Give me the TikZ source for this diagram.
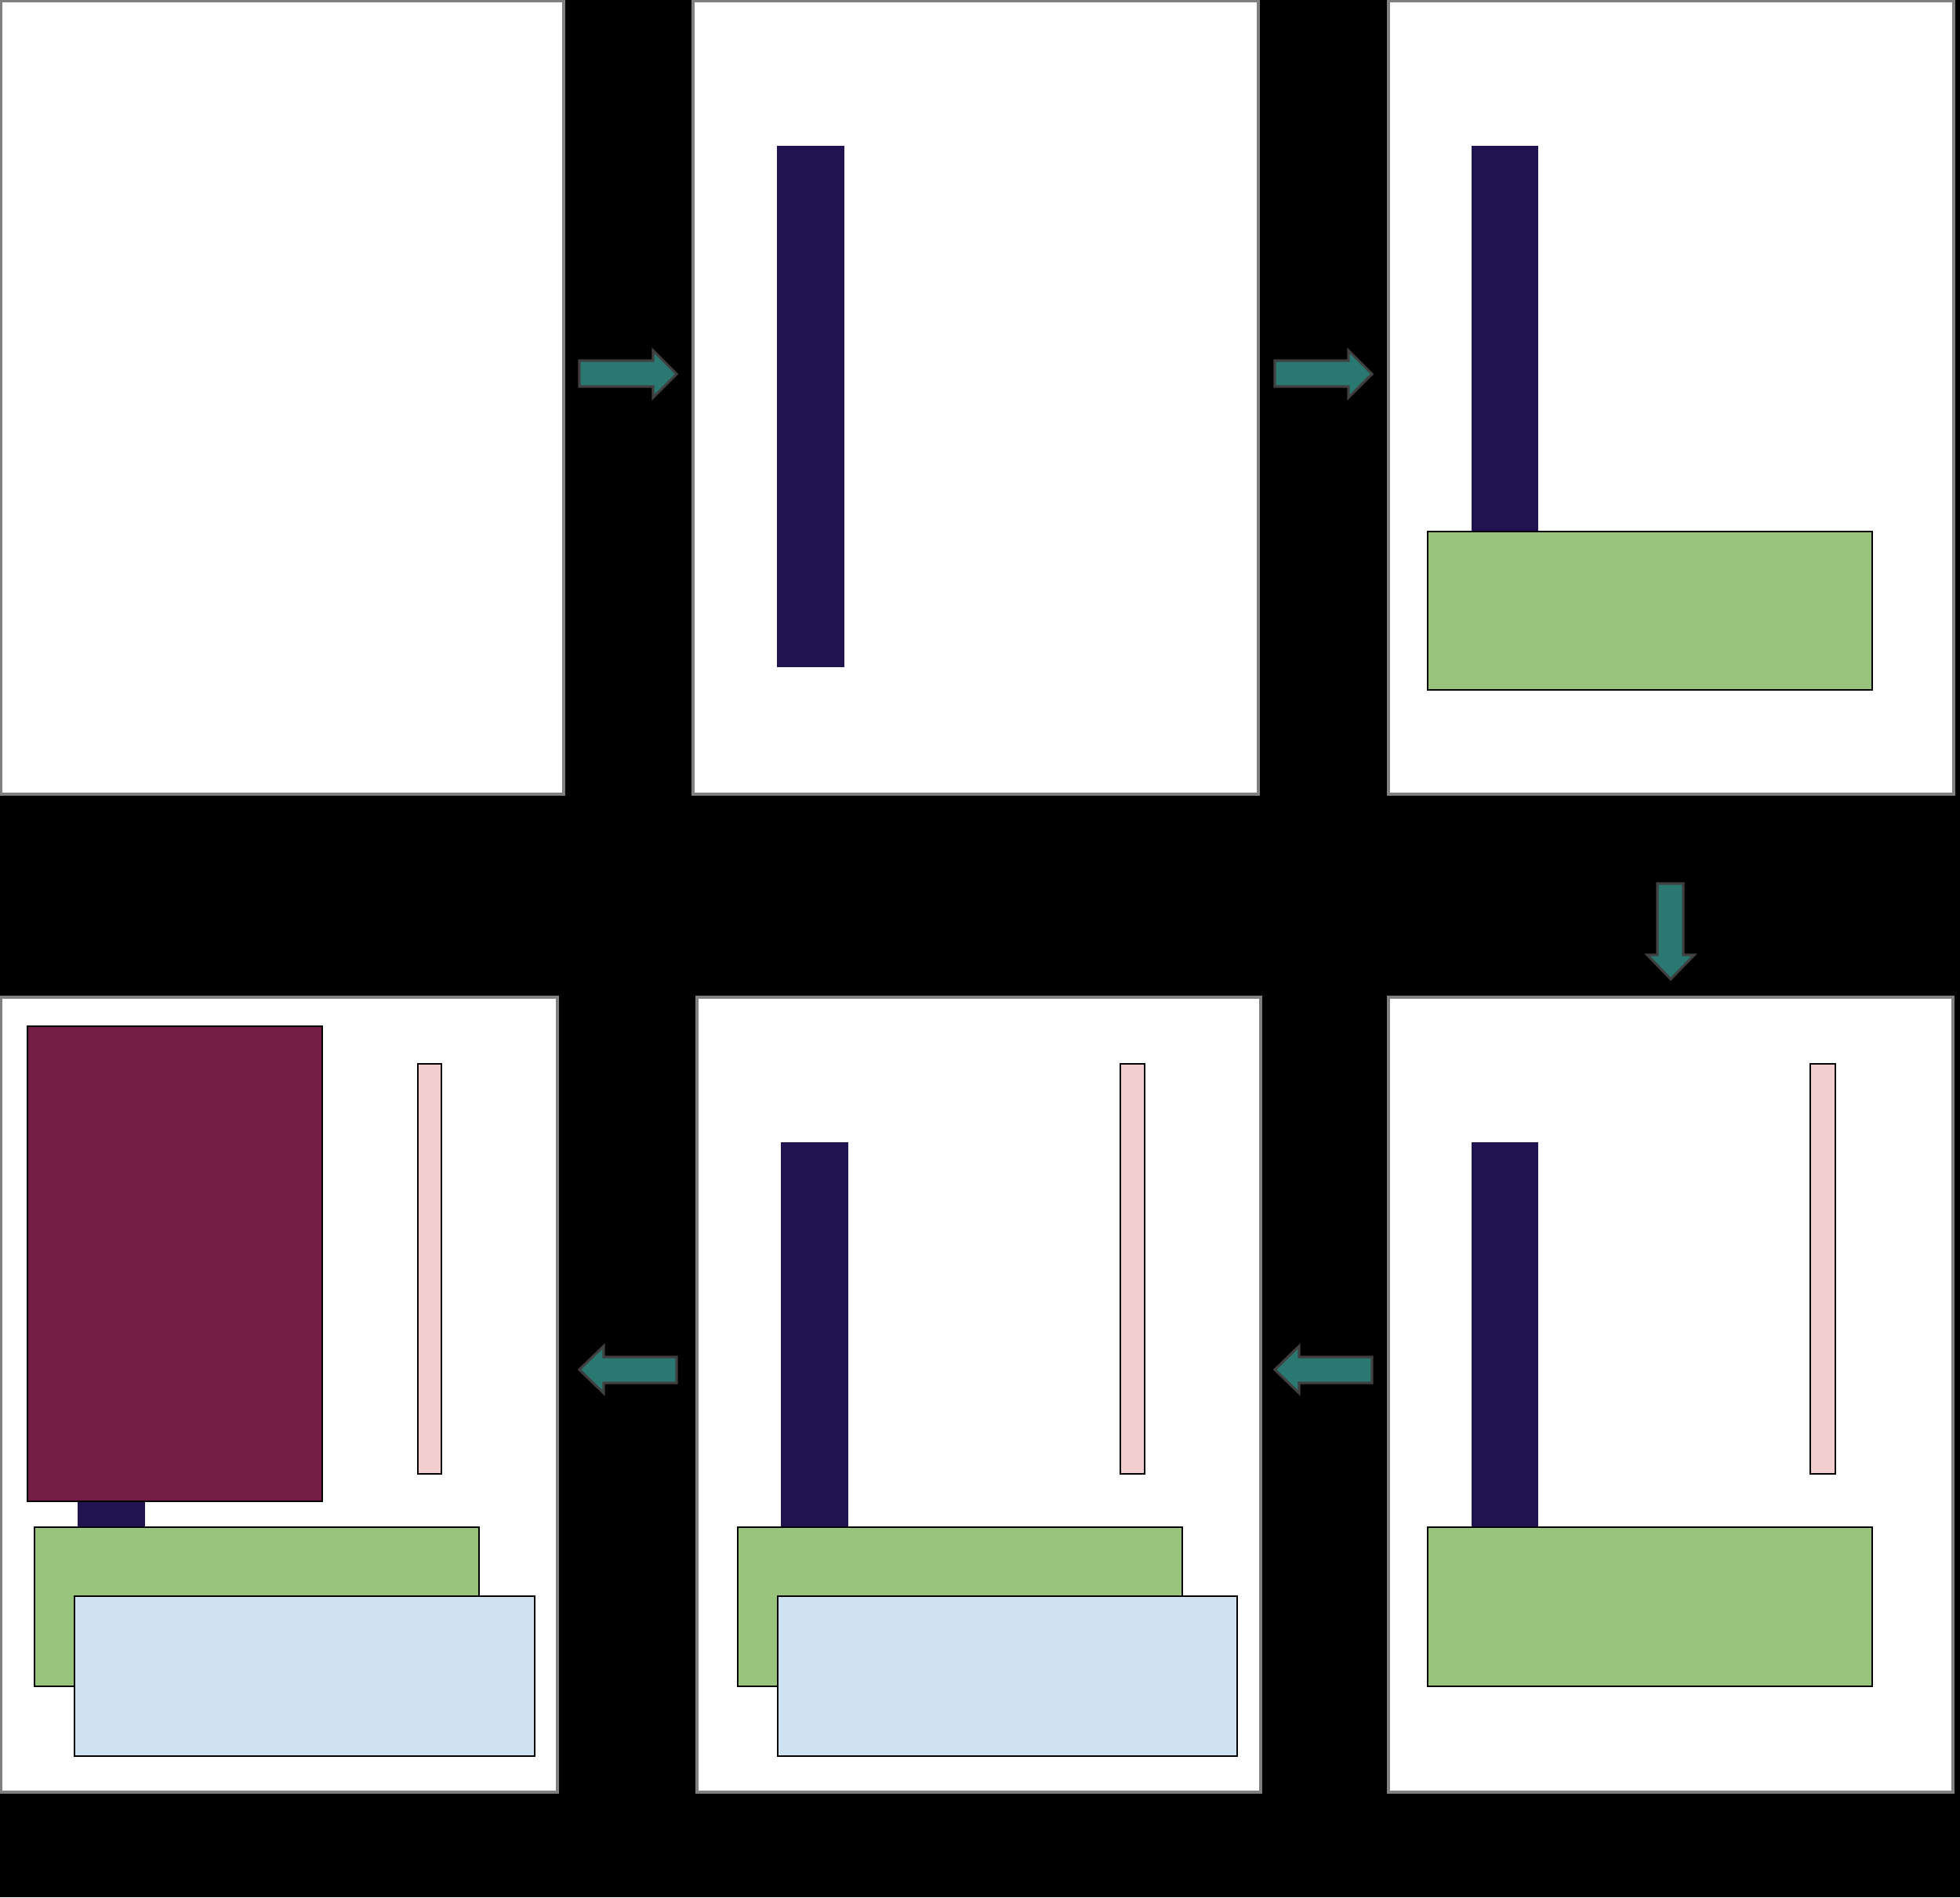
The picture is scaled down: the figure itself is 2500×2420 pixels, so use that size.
\documentclass[tikz,border=0pt]{standalone}
\definecolor{navy}{HTML}{21134F}
\definecolor{leaf}{HTML}{98C47E}
\definecolor{sky}{HTML}{CFE2F2}
\definecolor{blush}{HTML}{F2CECE}
\definecolor{wine}{HTML}{731D46}
\definecolor{teal2}{HTML}{2A7872}
\tikzset{
  panel/.style={fill=white,draw=gray,line width=1pt},
  block/.style={draw=black,line width=0.5pt},
  navybar/.style={fill=navy,draw=navy,line width=0.3pt},
  arrowshape/.style={fill=teal2,draw=black!75,line width=0.9pt,line join=miter}
}
\begin{document}
\begin{tikzpicture}[x=0.01cm,y=-0.01cm]
\useasboundingbox (0,0) rectangle (2500,2420);
\fill[black] (0,0) rectangle (2500,2420);
% top row panels
\draw[panel] (1,1) rectangle (719,1013);
\draw[panel] (884,1) rectangle (1605,1013);
\draw[panel] (1771,1) rectangle (2492,1013);
% bottom row panels
\draw[panel] (1,1272) rectangle (711,2286);
\draw[panel] (889,1272) rectangle (1608,2286);
\draw[panel] (1771,1272) rectangle (2491,2286);
% panel 2
\draw[navybar] (992,187) rectangle (1076,850);
% panel 3
\draw[navybar] (1878,187) rectangle (1961,678);
\draw[block,fill=leaf] (1821,678) rectangle (2388,880);
% panel 6
\draw[navybar] (1878,1457) rectangle (1961,1948);
\draw[block,fill=leaf] (1821,1948) rectangle (2388,2151);
\draw[block,fill=blush] (2309,1357) rectangle (2341,1880);
% panel 5
\draw[navybar] (997,1457) rectangle (1081,1948);
\draw[block,fill=leaf] (941,1948) rectangle (1508,2151);
\draw[block,fill=sky] (992,2036) rectangle (1578,2240);
\draw[block,fill=blush] (1429,1357) rectangle (1460,1880);
% panel 4
\draw[navybar] (100,1900) rectangle (184,1948);
\draw[block,fill=wine] (35,1309) rectangle (411,1915);
\draw[block,fill=leaf] (44,1948) rectangle (611,2151);
\draw[block,fill=sky] (95,2036) rectangle (682,2240);
\draw[block,fill=blush] (533,1357) rectangle (563,1880);
% arrows right
\draw[arrowshape] (739,460) -- (833,460) -- (833,447) -- (863,477) -- (833,507) -- (833,493) -- (739,493) -- cycle;
\draw[arrowshape] (1626,460) -- (1720,460) -- (1720,447) -- (1750,477) -- (1720,507) -- (1720,493) -- (1626,493) -- cycle;
% arrow down
\draw[arrowshape] (2114,1127) -- (2147,1127) -- (2147,1218) -- (2161,1218) -- (2131,1249) -- (2101,1218) -- (2114,1218) -- cycle;
% arrows left
\draw[arrowshape] (1750,1731) -- (1657,1731) -- (1657,1717) -- (1626,1747) -- (1657,1777) -- (1657,1764) -- (1750,1764) -- cycle;
\draw[arrowshape] (863,1731) -- (770,1731) -- (770,1717) -- (739,1747) -- (770,1777) -- (770,1764) -- (863,1764) -- cycle;
\end{tikzpicture}
\end{document}
